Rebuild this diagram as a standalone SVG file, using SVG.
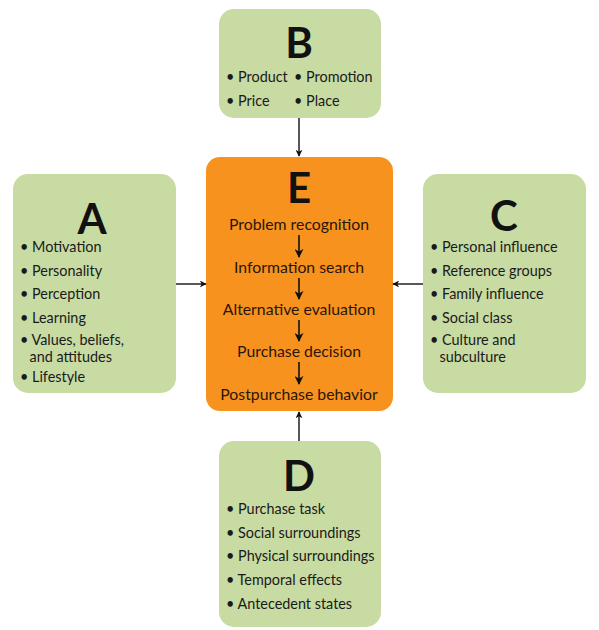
<svg xmlns="http://www.w3.org/2000/svg" width="599" height="630" viewBox="0 0 599 630">
<defs>
<style>
.box{fill:#c8dba3;}
.ebox{fill:#f7921e;}
.big{font-family:Lato,"Noto Sans",sans-serif;font-weight:bold;font-size:42px;fill:#111;text-anchor:middle;}
.t{font-family:Lato,"Noto Sans",sans-serif;font-size:14.4px;fill:#1a1a1a;}
.et{font-family:Lato,"Noto Sans",sans-serif;font-size:15.8px;fill:#2a1608;text-anchor:middle;}
.con{stroke:#111;stroke-width:1.4;fill:none;marker-end:url(#ah);}
.ein{stroke:#111;stroke-width:1.6;fill:none;marker-end:url(#ah2);}
</style>
<marker id="ah" viewBox="0 0 10 10" refX="9" refY="5" markerWidth="7" markerHeight="7" orient="auto" markerUnits="userSpaceOnUse">
<path d="M0,0 L10,5 L0,10 L3,5 z" fill="#111"/>
</marker>
<marker id="ah2" viewBox="0 0 10 10" refX="9" refY="5" markerWidth="9" markerHeight="9" orient="auto" markerUnits="userSpaceOnUse">
<path d="M0,0 L10,5 L0,10 L3,5 z" fill="#111"/>
</marker>
</defs>
<rect width="599" height="630" fill="#fff"/>
<g id="B">
<rect class="box" x="219" y="9" width="162" height="109" rx="15"/>
<text class="big" x="299" y="58">B</text>
<text class="t" x="226" y="82">• Product</text>
<text class="t" x="294" y="82">• Promotion</text>
<text class="t" x="226" y="106">• Price</text>
<text class="t" x="294" y="106">• Place</text>
</g>
<g id="A">
<rect class="box" x="13" y="174" width="163" height="219" rx="15"/>
<text class="big" x="92" y="234">A</text>
<text class="t" x="20" y="252">• Motivation</text>
<text class="t" x="20" y="276">• Personality</text>
<text class="t" x="20" y="299">• Perception</text>
<text class="t" x="20" y="323">• Learning</text>
<text class="t" x="20" y="345">• Values, beliefs,</text>
<text class="t" x="29.5" y="362">and attitudes</text>
<text class="t" x="20" y="382">• Lifestyle</text>
</g>
<g id="C">
<rect class="box" x="423" y="174" width="163" height="219" rx="15"/>
<text class="big" x="504" y="231">C</text>
<text class="t" x="430" y="252">• Personal influence</text>
<text class="t" x="430" y="276">• Reference groups</text>
<text class="t" x="430" y="299">• Family influence</text>
<text class="t" x="430" y="323">• Social class</text>
<text class="t" x="430" y="345">• Culture and</text>
<text class="t" x="439.5" y="362">subculture</text>
</g>
<g id="E">
<rect class="ebox" x="206" y="157" width="187" height="254" rx="14"/>
<text class="big" x="299" y="203">E</text>
<text class="et" x="299" y="230">Problem recognition</text>
<text class="et" x="299" y="273">Information search</text>
<text class="et" x="299" y="315">Alternative evaluation</text>
<text class="et" x="299" y="357">Purchase decision</text>
<text class="et" x="299" y="400">Postpurchase behavior</text>
</g>
<g id="D">
<rect class="box" x="219" y="441" width="162" height="186" rx="15"/>
<text class="big" x="299" y="491">D</text>
<text class="t" x="226" y="514">• Purchase task</text>
<text class="t" x="226" y="538">• Social surroundings</text>
<text class="t" x="226" y="561">• Physical surroundings</text>
<text class="t" x="226" y="585">• Temporal effects</text>
<text class="t" x="226" y="609">• Antecedent states</text>
</g>
<g id="connectors">
<line class="con" x1="299" y1="118" x2="299" y2="156"/>
<line class="con" x1="176" y1="284" x2="206" y2="284"/>
<line class="con" x1="423" y1="284" x2="393" y2="284"/>
<line class="con" x1="299" y1="441" x2="299" y2="412"/>
<line class="ein" x1="299" y1="235" x2="299" y2="257"/>
<line class="ein" x1="299" y1="278" x2="299" y2="299"/>
<line class="ein" x1="299" y1="320" x2="299" y2="341"/>
<line class="ein" x1="299" y1="362" x2="299" y2="384"/>
</g>
</svg>
